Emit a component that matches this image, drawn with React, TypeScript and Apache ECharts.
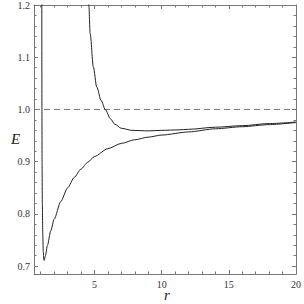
import React, { useEffect, useRef } from "react";
import * as echarts from "echarts";

// Lower curve (deep well near r ~ 1.26)
const lowerR = [1.08, 1.09, 1.1, 1.12, 1.15, 1.19, 1.23, 1.26, 1.35, 1.5, 1.75, 2.0, 2.5, 3.0, 3.5, 4.0, 4.5, 5.0, 6.0, 7.0, 8.0, 9.0, 10, 12, 14, 16, 18, 20];
const lowerE = [1.25, 1.0, 0.9, 0.82, 0.765, 0.728, 0.713, 0.711, 0.72, 0.74, 0.768, 0.79, 0.824, 0.85, 0.87, 0.886, 0.899, 0.91, 0.925, 0.935, 0.942, 0.947, 0.951, 0.957, 0.963, 0.967, 0.971, 0.975];

// Upper curve (descends from top, shallow minimum near r ~ 8.5)
const upperR = [4.52, 4.58, 4.68, 4.92, 5.17, 5.5, 5.8, 6.2, 6.5, 7.0, 7.8, 9.0, 10, 11.3, 12, 14, 16, 18, 20];
const upperE = [1.23, 1.2, 1.145, 1.081, 1.043, 1.017, 1.0, 0.982, 0.972, 0.964, 0.96, 0.959, 0.96, 0.961, 0.962, 0.966, 0.969, 0.973, 0.976];

const refLineE = 1.0;
const xRange = [0.5, 20];
const yRange = [0.685, 1.2];

const FONT = "Liberation Serif";
const FRAME = "#777";
const LABEL = "#333";

export default function App() {
  const ref = useRef<HTMLDivElement>(null);
  useEffect(() => {
    if (!ref.current) return;
    const chart = echarts.init(ref.current, undefined, { renderer: "svg" });
    const axisCommon = {
      type: "value",
      axisLine: { show: true, lineStyle: { color: FRAME, width: 1 } },
      axisTick: { show: true, inside: true, length: 4, lineStyle: { color: FRAME } },
      minorTick: { show: true, splitNumber: 5, length: 2.5, lineStyle: { color: FRAME } },
      splitLine: { show: false },
      minorSplitLine: { show: false },
    };
    const xFmt = (v: number) => (Math.abs(v % 5) < 1e-9 && v > 0 ? String(v) : "");
    const yFmt = (v: number) => {
      const k = Math.round(v * 10);
      return Math.abs(v * 10 - k) < 1e-6 ? (k / 10).toFixed(1) : "";
    };
    chart.setOption({
      animation: false,
      grid: { left: 34, right: 3.5, top: 5, bottom: 30, containLabel: false },
      xAxis: [
        {
          ...axisCommon,
          position: "bottom",
          min: xRange[0],
          max: xRange[1],
          splitNumber: 4,
          axisLabel: { show: true, formatter: xFmt, color: LABEL, fontFamily: FONT, fontSize: 10, margin: 5, showMinLabel: false },
        },
        {
          ...axisCommon,
          position: "top",
          min: xRange[0],
          max: xRange[1],
          splitNumber: 4,
          axisLabel: { show: false },
        },
      ],
      yAxis: [
        {
          ...axisCommon,
          position: "left",
          min: yRange[0],
          max: yRange[1],
          splitNumber: 5,
          axisLabel: { show: true, formatter: yFmt, color: LABEL, fontFamily: FONT, fontSize: 10, margin: 4, showMinLabel: false },
        },
        {
          ...axisCommon,
          position: "right",
          min: yRange[0],
          max: yRange[1],
          splitNumber: 5,
          axisLabel: { show: false },
        },
      ],
      series: [
        {
          type: "line",
          data: [[xRange[0], refLineE], [xRange[1], refLineE]],
          showSymbol: false,
          symbol: "none",
          lineStyle: { color: "#777", width: 1, type: [6, 4] },
          silent: true,
        },
        {
          type: "line",
          data: lowerR.map((r, i) => [r, lowerE[i]]),
          showSymbol: false,
          symbol: "none",
          smooth: 0.25,
          smoothMonotone: "x",
          clip: true,
          lineStyle: { color: "#222", width: 1 },
        },
        {
          type: "line",
          data: upperR.map((r, i) => [r, upperE[i]]),
          showSymbol: false,
          symbol: "none",
          smooth: 0.3,
          smoothMonotone: "x",
          clip: true,
          lineStyle: { color: "#222", width: 1 },
        },
      ],
      graphic: [
        {
          type: "text",
          left: 11,
          top: 131,
          style: { text: "E", font: `italic 15px "${FONT}"`, fill: "#222" },
        },
        {
          type: "text",
          left: 164,
          top: 287,
          style: { text: "r", font: `italic 15px "${FONT}"`, fill: "#222" },
        },
      ],
    });
    return () => chart.dispose();
  }, []);
  return <div ref={ref} style={{ width: 304, height: 304, position: "absolute", left: 0, top: 0 }} />;
}
